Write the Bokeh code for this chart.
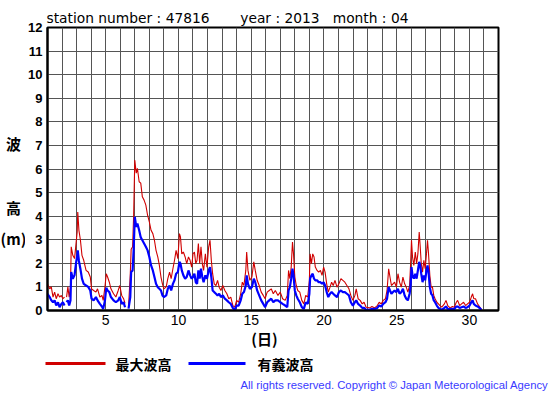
import numpy as np
from bokeh.plotting import figure
from bokeh.layouts import column, row
from bokeh.models import FixedTicker, Label, BoxAnnotation, Range1d, Title
from bokeh.embed import file_html
from bokeh.resources import INLINE

# ---- data ----
day = [1.00, 1.15, 1.26, 1.38, 1.49, 1.60, 1.72, 1.83, 1.95, 2.06, 2.17, 2.24, 2.31, 2.40, 2.49, 2.58,
       2.63, 2.74, 2.86, 2.97, 3.04, 3.08, 3.16, 3.26, 3.37, 3.49, 3.65, 3.80, 3.94, 4.03, 4.17, 4.33,
       4.44, 4.60, 4.74, 4.83, 4.95, 5.04, 5.13, 5.25, 5.36, 5.54, 5.70, 5.86, 5.97, 6.10, 6.23, 6.33,
       6.45, 6.57, 6.69, 6.75, 6.85, 6.92, 7.00, 7.10, 7.18, 7.30, 7.41, 7.52, 7.64, 7.76, 7.88, 8.00,
       8.12, 8.24, 8.35, 8.46, 8.58, 8.69, 8.80, 8.90, 9.00, 9.16, 9.27, 9.39, 9.50, 9.62, 9.73, 9.84,
       9.96, 10.07, 10.14, 10.23, 10.34, 10.46, 10.57, 10.69, 10.80, 10.91, 11.00, 11.10, 11.19, 11.28,
       11.37, 11.46, 11.55, 11.64, 11.73, 11.85, 11.96, 12.08, 12.17, 12.26, 12.35, 12.46, 12.58, 12.69,
       12.80, 12.92, 13.05, 13.19, 13.33, 13.46, 13.60, 13.74, 13.87, 14.00, 14.14, 14.28, 14.39, 14.50,
       14.63, 14.69, 14.78, 14.91, 15.05, 15.18, 15.28, 15.41, 15.55, 15.69, 15.83, 15.96, 16.10, 16.24,
       16.38, 16.52, 16.66, 16.84, 17.00, 17.16, 17.34, 17.48, 17.57, 17.66, 17.75, 17.84, 17.91, 18.00,
       18.10, 18.20, 18.34, 18.48, 18.62, 18.75, 18.89, 19.00, 19.05, 19.14, 19.23, 19.32, 19.41, 19.53,
       19.64, 19.76, 19.87, 19.98, 20.08, 20.19, 20.30, 20.42, 20.53, 20.64, 20.76, 20.90, 21.03, 21.17,
       21.30, 21.44, 21.58, 21.72, 21.85, 21.99, 22.13, 22.22, 22.35, 22.49, 22.63, 22.76, 22.90, 23.15,
       23.30, 23.49, 23.67, 23.80, 23.94, 24.08, 24.23, 24.34, 24.45, 24.54, 24.64, 24.75, 24.86, 24.98,
       25.09, 25.20, 25.32, 25.43, 25.55, 25.66, 25.77, 25.89, 25.96, 26.02, 26.09, 26.18, 26.28, 26.37,
       26.46, 26.55, 26.62, 26.69, 26.78, 26.87, 26.96, 27.05, 27.12, 27.19, 27.28, 27.37, 27.46, 27.55,
       27.64, 27.76, 27.87, 27.98, 28.10, 28.28, 28.39, 28.51, 28.67, 28.83, 28.96, 29.10, 29.19, 29.33,
       29.46, 29.60, 29.74, 29.87, 30.01, 30.13, 30.22, 30.30, 30.42, 30.56, 30.69, 30.83]

max_wave = [1.13, 0.92, 1.00, 0.57, 0.78, 0.50, 0.71, 0.57, 0.64, 0.50, 0.57, None, 0.57, 1.00, 0.57, 1.00,
            2.70, 2.34, 2.20, 2.90, 3.33, 4.18, 3.40, 3.00, 2.34, 2.13, 1.70, 1.63, 1.42, 0.92, 0.85, 0.78,
            0.92, 0.57, 0.64, 0.43, 1.00, 1.56, 1.42, 1.20, 0.92, 0.71, 0.57, 0.85, 1.06, 0.64, 0.50, 0.30,
            None, 0.15, 1.56, 2.60, 2.70, 4.00, 6.38, 5.82, 6.03, 5.46, 5.40, 4.82, 4.68, 4.47, 4.04, 3.76,
            3.40, 3.26, 2.98, 2.55, 2.27, 1.91, 1.42, 1.13, 0.92, 1.00, 1.35, 1.63, 1.35, 1.77, 2.13, 2.55,
            2.20, 3.26, 3.12, 2.40, 2.48, 2.27, 1.99, 2.27, 2.13, 1.84, 2.40, 2.48, 1.99, 2.13,
            2.84, 1.99, 2.70, 1.99, 1.70, 2.40, 1.84, 2.70, 2.98, 2.13, 1.56, 1.13, 1.06, 1.28,
            0.99, 0.85, 1.06, 0.85, 0.71, 0.50, 0.57, 0.21, 0.14, 0.43, 0.35, 0.71, 1.20, 1.06,
            1.70, 2.48, 1.70, 1.28, 1.42, 2.06, 1.70, 1.28, 1.06, 0.78, 0.64, 0.50, 0.78, 0.85,
            0.92, 0.71, 0.85, 0.64, 0.78, 0.50, 0.43, 0.64, 1.70, 1.35, 1.84, 2.90, 2.40, 1.42,
            1.06, 0.85, 0.78, 0.43, 0.28, 0.64, 0.57, 1.28, 2.40, 1.99, 2.40, 2.27, 1.84, 1.70,
            1.63, 1.70, 1.49, 1.84, 1.63, 1.13, 0.78, 0.99, 1.20, 1.06, 1.28, 0.99, 1.13, 1.35,
            1.28, 1.20, 1.06, 0.92, 0.64, 0.43, 0.64, 0.92, 0.50, 0.43, 0.28, 0.35, 0.14, 0.11,
            0.17, 0.11, 0.21, 0.35, 0.28, 0.43, 0.50, 0.85, 1.77, 1.42, 1.06, 1.13, 1.20, 0.99,
            1.56, 1.20, 0.99, 1.42, 1.13, 0.99, 0.78, 1.06, 1.99, 2.98, 2.27, 1.91, 2.48, 1.99,
            2.41, 3.33, 2.70, 1.99, 1.63, 2.13, 1.77, 2.41, 2.98, 2.41, 1.49, 0.99, 0.99, 0.64,
            0.50, 0.35, 0.28, 0.21, 0.14, 0.28, 0.43, 0.21, 0.11, 0.17, 0.14, 0.35, 0.43, 0.21,
            0.28, 0.35, 0.21, 0.28, 0.35, 0.57, 0.71, 0.50, 0.50, 0.28, 0.17, 0.03]

sig_wave = [0.70, 0.57, 0.43, 0.35, 0.43, 0.21, 0.35, 0.14, 0.28, 0.35, 0.21, None, 0.35, 0.43, 0.21, 0.43,
            1.63, 1.35, 1.50, 2.05, 2.30, 2.55, 2.10, 1.77, 1.35, 1.13, 1.06, 1.00, 0.85, 0.50, 0.43, 0.57,
            0.43, 0.28, 0.17, 0.07, 0.43, 0.96, 0.85, 0.78, 0.57, 0.43, 0.35, 0.43, 0.57, 0.28, 0.35, 0.14,
            None, 0.08, 0.57, 1.63, 1.70, 2.55, 3.97, 3.55, 3.69, 3.40, 3.10, 2.98, 2.84, 2.70, 2.55, 2.27,
            1.91, 1.70, 1.42, 1.13, 0.99, 0.92, 0.85, 0.64, 0.57, 0.64, 0.92, 1.06, 0.85, 1.13, 1.28, 1.56,
            1.63, 2.06, 1.99, 1.70, 1.49, 1.35, 1.42, 1.70, 1.49, 1.35, 1.42, 1.56, 1.20, 1.13,
            1.70, 1.35, 1.77, 1.42, 1.20, 1.49, 1.35, 1.70, 1.84, 1.42, 0.85, 0.78, 0.71, 0.64,
            0.71, 0.57, 0.64, 0.50, 0.43, 0.35, 0.28, 0.11, 0.03, 0.21, 0.21, 0.43, 0.71, 0.78,
            1.06, 1.49, 1.13, 0.92, 0.99, 1.35, 1.20, 0.85, 0.64, 0.43, 0.28, 0.14, 0.35, 0.43,
            0.50, 0.35, 0.43, 0.43, 0.35, 0.28, 0.21, 0.14, 0.85, 0.99, 1.35, 1.77, 1.49, 0.85,
            0.64, 0.50, 0.35, 0.14, 0.07, 0.35, 0.28, 0.71, 1.35, 1.49, 1.56, 1.35, 1.28, 1.28,
            1.20, 1.20, 1.13, 1.20, 1.06, 0.78, 0.57, 0.71, 0.78, 0.71, 0.64, 0.57, 0.78, 0.85,
            0.78, 0.78, 0.71, 0.64, 0.35, 0.21, 0.35, 0.43, 0.28, 0.21, 0.11, 0.11, 0.03, 0.03,
            0.07, 0.06, 0.11, 0.21, 0.17, 0.28, 0.35, 0.50, 0.99, 0.85, 0.71, 0.78, 0.85, 0.78,
            0.92, 0.71, 0.78, 0.92, 0.64, 0.50, 0.43, 0.71, 1.06, 1.84, 1.49, 1.35, 1.56, 1.35,
            1.70, 2.06, 1.91, 1.56, 1.20, 1.49, 1.28, 1.70, 1.91, 1.63, 0.99, 0.71, 0.64, 0.43,
            0.35, 0.21, 0.11, 0.07, 0.03, 0.11, 0.17, 0.07, 0.06, 0.07, 0.06, 0.17, 0.17, 0.11,
            0.14, 0.17, 0.11, 0.14, 0.21, 0.35, 0.43, 0.28, 0.21, 0.17, 0.11, 0.03]

x_tick_values = [5, 10, 15, 20, 25, 30]
y_tick_values = list(range(0, 13))
station_number = "47816"
year = "2013"
month = "04"
series_names = ["最大波高", "有義波高"]
series_colors = ["#d00000", "#0000ff"]

t = np.array(day, dtype=float)
mx = np.array(max_wave, dtype=float)
sg = np.array(sig_wave, dtype=float)

FONT = "Liberation Sans"
CJK = "Noto Sans CJK JP"
NB = "\u00a0"

# ---- layout sizes (pixels) ----
TOTAL_W = 552
SIDE_W = 25
MAIN_W = TOTAL_W - SIDE_W
BT, BL, BR, BB = 27, 20, 54, 44
FH = 283
MAIN_H = BT + FH + BB
FOOT_H = 39


def lab(f, text, x, y, size, font=FONT, style="normal", color="black", align="left"):
    f.add_layout(Label(x=x, y=y, text=text, text_font=font, text_font_size=size,
                       text_font_style=style, text_color=color, text_align=align,
                       text_baseline="middle"))


# side (y label), frame aligned with the main frame; y range = page pixel rows
side = figure(width=SIDE_W, height=MAIN_H, x_range=Range1d(0, SIDE_W), y_range=Range1d(BT + FH, BT),
              x_axis_location=None, y_axis_location=None, toolbar_location=None,
              output_backend="svg", min_border_left=0, min_border_right=0,
              min_border_top=BT, min_border_bottom=BB)
side.grid.visible = False
side.outline_line_color = None
lab(side, "波", 13, 143, "15px", font=CJK, style="bold", align="center")
lab(side, "高", 13, 207, "15px", font=CJK, style="bold", align="center")
lab(side, "(m)", 13, 238, "15px", font=CJK, style="bold", align="center")

# main chart
title = Title(text="station number : " + station_number + NB * 7 + "year : " + year + NB * 3
              + "month : " + month,
              align="left", offset=-1, standoff=3, text_font="DejaVu Sans",
              text_font_size="13.8px", text_font_style="normal", text_color="black")
p = figure(width=MAIN_W, height=MAIN_H, output_backend="svg", toolbar_location=None,
           title=title, x_range=Range1d(1, 32), y_range=Range1d(0, 12),
           min_border_left=BL, min_border_right=BR, min_border_top=BT, min_border_bottom=BB)
p.background_fill_color = "white"
p.border_fill_color = "white"
p.outline_line_color = "black"
p.outline_line_width = 2

p.xaxis.ticker = FixedTicker(ticks=x_tick_values)
p.yaxis.ticker = FixedTicker(ticks=y_tick_values)
p.xgrid.ticker = FixedTicker(ticks=list(range(1, 33)))
p.ygrid.ticker = FixedTicker(ticks=y_tick_values)
for g in (p.xgrid, p.ygrid):
    g.grid_line_color = "#555555"
    g.grid_line_width = 1
for ax in (p.xaxis, p.yaxis):
    ax.axis_line_color = "black"
    ax.axis_line_width = 2
    ax.major_tick_line_color = None
    ax.minor_tick_line_color = None
    ax.major_tick_out = 0
    ax.major_tick_in = 0
    ax.major_label_text_color = "black"
    ax.major_label_text_font = FONT
p.yaxis.major_label_text_font_size = "13px"
p.yaxis.major_label_text_font_style = "bold"
p.yaxis.major_label_standoff = 5
p.xaxis.major_label_text_font_size = "14px"
p.xaxis.major_label_standoff = 4
p.xaxis.axis_label = "(日)" + NB * 5
p.xaxis.axis_label_text_font = CJK
p.xaxis.axis_label_text_font_size = "15px"
p.xaxis.axis_label_text_font_style = "bold"
p.xaxis.axis_label_text_color = "black"
p.xaxis.axis_label_standoff = 0

p.line(t, mx, line_color=series_colors[0], line_width=1.1)
p.line(t, sg, line_color=series_colors[1], line_width=2.2)

# footer (legend + copyright); y range = page pixel rows
FOOT_TOP = MAIN_H
foot = figure(width=TOTAL_W, height=FOOT_H, x_range=Range1d(0, TOTAL_W),
              y_range=Range1d(FOOT_TOP + FOOT_H, FOOT_TOP),
              x_axis_location=None, y_axis_location=None, toolbar_location=None,
              output_backend="svg", min_border_left=0, min_border_right=0,
              min_border_top=0, min_border_bottom=0)
foot.grid.visible = False
foot.outline_line_color = None
for name, col, x_a, x_b, x_t in [(series_names[0], series_colors[0], 45, 105, 115),
                                  (series_names[1], series_colors[1], 188, 245, 257)]:
    foot.add_layout(BoxAnnotation(left=x_a, right=x_b, top=361.5, bottom=364.5,
                                  fill_color=col, fill_alpha=1, line_color=None))
    lab(foot, name, x_t, 363, "14px", font=CJK, style="bold")
lab(foot, "All rights reserved. Copyright © Japan Meteorological Agency", 240, 384,
    "11.3px", color="#3a3aff")

layout = column(row(side, p, spacing=0), foot, spacing=0)
open("out.html", "w").write(file_html(layout, INLINE))
